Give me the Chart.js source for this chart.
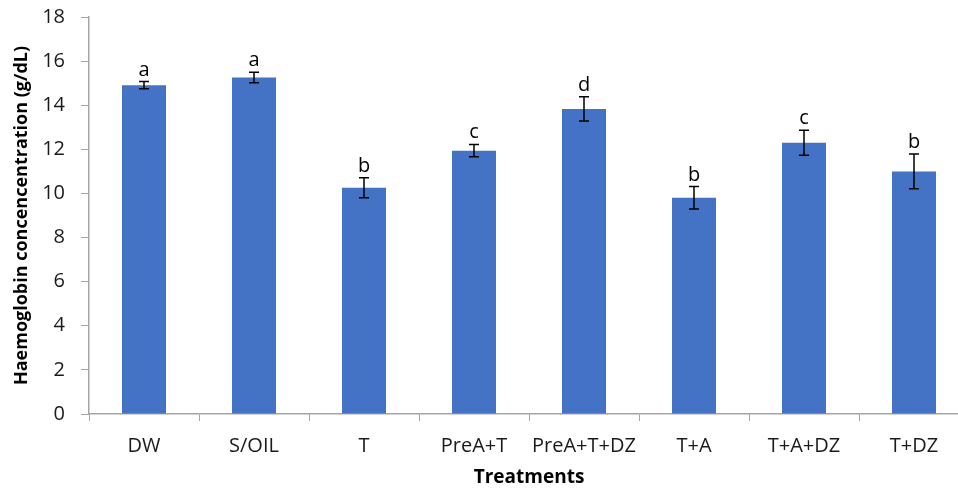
<!DOCTYPE html>
<html lang="en">
<head>
    <meta charset="UTF-8">
    <title>Haemoglobin concentration</title>
    <script src="https://cdn.jsdelivr.net/npm/chart.js"></script>
    <style>
body {
  margin: 0;
  background: #fff;
  overflow: hidden;
}
.wrap {
  width: 969px;
  height: 490px;
}
    </style>
</head>
<body>
    <div class="wrap">
        <canvas id="hbChart" width="969" height="490"></canvas>
    </div>

    <script>
// data
const treatments = ['DW', 'S/OIL', 'T', 'PreA+T', 'PreA+T+DZ', 'T+A', 'T+A+DZ', 'T+DZ'];
const hbMeans = [14.91, 15.26, 10.26, 11.94, 13.83, 9.80, 12.30, 11.00];
const hbErrors = [0.16, 0.24, 0.45, 0.28, 0.55, 0.51, 0.57, 0.79];
const sigLetters = ['a', 'a', 'b', 'c', 'd', 'b', 'c', 'b'];
const yTicks = [0, 2, 4, 6, 8, 10, 12, 14, 16, 18];

const axisGray = '#a6a6a6';
const textFont = "'Open Sans', sans-serif";

// error bars + letters on top of each bar
const errorBarPlugin = {
    id: 'errorBars',
    afterDatasetsDraw(chart) {
        const ctx = chart.ctx;
        const yScale = chart.scales.y;
        const meta = chart.getDatasetMeta(0);
        ctx.save();
        ctx.strokeStyle = '#000';
        ctx.lineWidth = 1.5;
        meta.data.forEach((bar, i) => {
            const top = yScale.getPixelForValue(hbMeans[i] + hbErrors[i]);
            const bottom = yScale.getPixelForValue(hbMeans[i] - hbErrors[i]);
            ctx.beginPath();
            ctx.moveTo(bar.x, top);
            ctx.lineTo(bar.x, bottom);
            ctx.moveTo(bar.x - 5, top);
            ctx.lineTo(bar.x + 5, top);
            ctx.moveTo(bar.x - 5, bottom);
            ctx.lineTo(bar.x + 5, bottom);
            ctx.stroke();

            ctx.fillStyle = '#000';
            ctx.font = '20px ' + textFont;
            ctx.textAlign = 'center';
            ctx.textBaseline = 'alphabetic';
            ctx.fillText(sigLetters[i], bar.x, top - 6);
        });
        ctx.restore();
    }
};

new Chart(document.getElementById('hbChart'), {
    type: 'bar',
    data: {
        labels: treatments,
        datasets: [{
            data: hbMeans,
            backgroundColor: '#4472c4',
            categoryPercentage: 1,
            barPercentage: 0.4
        }]
    },
    options: {
        responsive: false,
        animation: false,
        layout: {
            padding: { top: 17, right: 0, left: 0, bottom: 0 }
        },
        plugins: {
            legend: { display: false },
            tooltip: { enabled: false }
        },
        scales: {
            x: {
                grid: {
                    offset: true,
                    drawOnChartArea: false,
                    tickLength: 7,
                    color: axisGray
                },
                border: { color: axisGray, width: 1.5 },
                ticks: {
                    color: '#1a1a1a',
                    padding: 13,
                    maxRotation: 0,
                    font: { family: textFont, size: 20 }
                },
                title: {
                    display: true,
                    text: 'Treatments',
                    color: '#000',
                    padding: { top: 0, bottom: 1 },
                    font: { family: textFont, size: 19, weight: 'bold' }
                },
                afterFit(scale) { scale.height = 76; }
            },
            y: {
                min: 0,
                max: 18,
                afterBuildTicks(scale) {
                    scale.ticks = yTicks.map(v => ({ value: v }));
                },
                grid: {
                    drawOnChartArea: false,
                    tickLength: 8,
                    color: axisGray
                },
                border: { color: axisGray, width: 1.5 },
                ticks: {
                    color: '#1a1a1a',
                    padding: 16,
                    font: { family: textFont, size: 20 }
                },
                title: {
                    display: true,
                    text: 'Haemoglobin concencentration (g/dL)',
                    color: '#000',
                    padding: { top: 11, bottom: 0 },
                    font: { family: textFont, size: 18, weight: 'bold' }
                },
                afterFit(scale) {
                    scale.width = 89;
                    scale.paddingTop = 0;
                    scale.paddingBottom = 0;
                }
            }
        }
    },
    plugins: [errorBarPlugin]
});
    </script>
</body>
</html>
